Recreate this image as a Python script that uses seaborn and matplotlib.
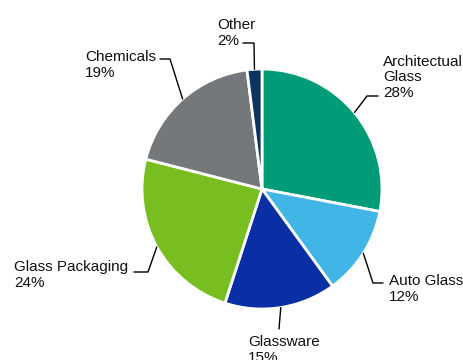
import numpy as np
import matplotlib
matplotlib.use("Agg")
import matplotlib.pyplot as plt
import seaborn as sns

# ---- data ----
categories = ["Architectual\nGlass", "Auto Glass", "Glassware", "Glass Packaging", "Chemicals", "Other"]
shares = [28, 12, 15, 24, 19, 2]
colors = ["#009B77", "#41B6E6", "#0A2FA5", "#78BE20", "#75787B", "#0D3461"]

sns.set_theme(style="white")
plt.rcParams["font.family"] = ["Liberation Sans", "DejaVu Sans"]

W, H = 464, 360
CX, CY, R = 262, 189, 120
fig = plt.figure(figsize=(W / 100, H / 100), dpi=100)
ax = fig.add_axes([(CX - R) / W, (H - CY - R) / H, 2 * R / W, 2 * R / H])

wedges, _ = ax.pie(shares, colors=colors, startangle=90, counterclock=False,
                   wedgeprops=dict(edgecolor="white", linewidth=2))
ax.set_xlim(-1, 1)
ax.set_ylim(-1, 1)
ax.set_aspect("equal")
ax.axis("off")


def d(px, py):
    return ((px - CX) / R, (CY - py) / R)


# label layout (pixel positions): elbow, end of leader, text anchor (left, last-line baseline)
layout = [
    dict(elbow=(367, 96), end=(378, 96), text=(383, 97)),
    dict(elbow=(373, 283), end=(383, 283), text=(389, 301)),
    dict(elbow=(279, 329), end=(279, 329), text=(248, 362)),
    dict(elbow=(148, 272), end=(134, 272), text=(14, 287)),
    dict(elbow=(170, 59), end=(160, 59), text=(85, 77)),
    dict(elbow=(254, 43), end=(243, 43), text=(217, 45)),
]

for w, cat, val, lay in zip(wedges, categories, shares, layout):
    mid = np.deg2rad((w.theta1 + w.theta2) / 2)
    ax0, ay0 = np.cos(mid), np.sin(mid)
    ex, ey = d(*lay["elbow"])
    nx, ny = d(*lay["end"])
    ax.plot([ax0, ex, nx], [ay0, ey, ny], color="black", lw=1, clip_on=False)
    tx, ty = d(*lay["text"])
    ax.text(tx, ty, f"{cat}\n{val}%", ha="left", va="baseline", fontsize=11,
            color="#111111", linespacing=1.15)

fig.savefig("out.png", dpi=100)
